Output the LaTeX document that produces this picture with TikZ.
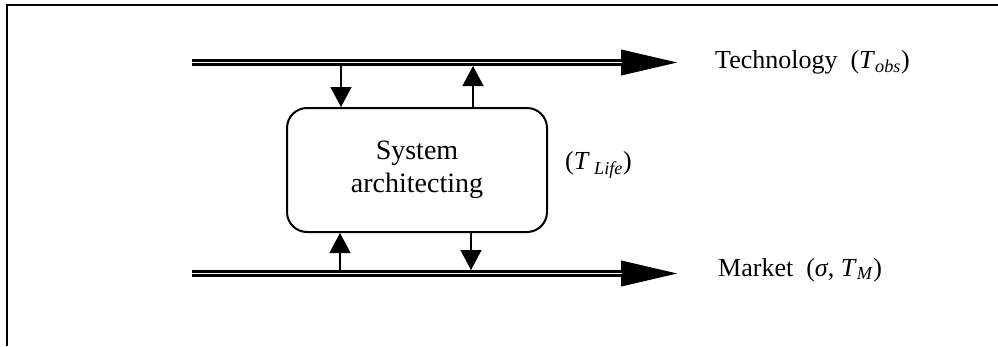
\documentclass[tikz,border=0pt]{standalone}
\usepackage{fontspec}
\setmainfont{Liberation Serif}
\usetikzlibrary{arrows.meta}
\newcommand{\mysub}[1]{\textsubscript{\textit{#1}}}
\begin{document}
\begin{tikzpicture}[x=1pt,y=-1pt,
  shaft/.style={line width=7pt,-{Triangle[length=58pt,width=24pt]}},
  gap/.style={white,line width=0.8pt},
  link/.style={line width=1.4pt,-{Triangle[length=20pt,width=21pt]}},
  lbl/.style={anchor=west,inner sep=0pt,font=\fontsize{26}{30}\selectfont}]
\useasboundingbox (0,0) rectangle (998,346);
% frame (top and left only)
\draw[line width=2pt] (7,346) -- (7,5) -- (998,5);
% box
\node[draw,line width=2pt,rounded corners=20pt,minimum width=260pt,minimum height=124pt,
      align=center,font=\fontsize{28}{33}\selectfont] (box) at (417,170) {System\\architecting};
% main lines
\coordinate (tA) at (192,62.5);
\coordinate (tB) at (679,62.5);
\coordinate (mA) at (192,273.5);
\coordinate (mB) at (679,273.5);
\draw[shaft] (tA) -- (tB);
\draw[gap] (tA) -- (622,62.5);
\draw[shaft] (mA) -- (mB);
\draw[gap] (mA) -- (622,273.5);
% links
\coordinate (t1) at (341,66);
\coordinate (t2) at (473,66);
\coordinate (m1) at (340,270);
\coordinate (m2) at (471,270);
\draw[link] (t1) -- (t1 |- box.north);
\draw[link] (t2 |- box.north) -- (t2);
\draw[link] (m1) -- (m1 |- box.south);
\draw[link] (m2 |- box.south) -- (m2);
% labels
\node[lbl] (tech) at (715,62) {Technology\ \ (\textit{T}\mysub{obs})};
\node[lbl] (life) at (565,165) {(\textit{T}\,\mysub{Life})};
\node[lbl] (mkt) at (718,270) {Market\ \ (\textit{σ}, \textit{T}\mysub{M})};
\end{tikzpicture}
\end{document}
